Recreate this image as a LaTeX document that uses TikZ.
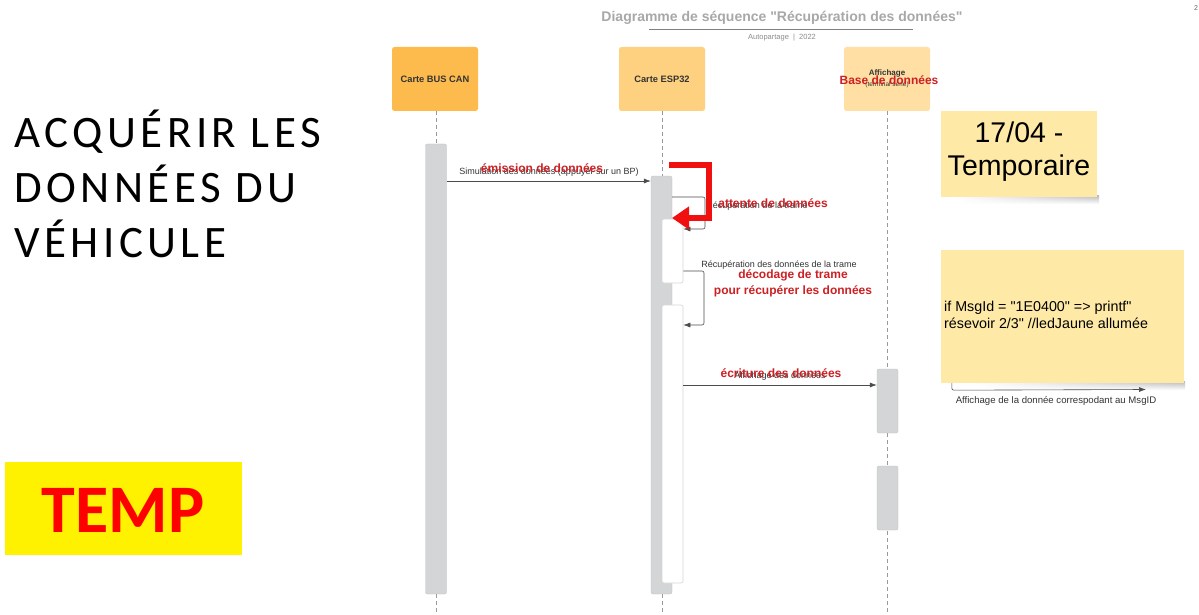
\documentclass[tikz,border=0pt]{standalone}
\usepackage{fontspec}
\setmainfont{Liberation Sans}[Ligatures=TeXOff]
\newfontfamily\carl{Carlito}
\newfontfamily\carlsp[LetterSpace=10]{Carlito}
\usetikzlibrary{arrows.meta,fadings}
\definecolor{busc}{RGB}{253,187,78}
\definecolor{espc}{RGB}{254,209,128}
\definecolor{affc}{RGB}{255,223,163}
\definecolor{barc}{RGB}{212,213,215}
\definecolor{notec}{RGB}{254,234,166}
\definecolor{redtxt}{RGB}{205,32,36}
\definecolor{redarr}{RGB}{240,16,16}
\definecolor{titlec}{RGB}{168,168,168}
\begin{document}
\begin{tikzpicture}[x=1pt,y=-1pt,
  actor/.style={fill=#1, rounded corners=2.5pt, minimum width=86pt, minimum height=64pt, inner sep=0pt},
  actortxt/.style={font=\bfseries\fontsize{9.3}{11}\selectfont, text=black!80, inner sep=0pt},
  life/.style={draw=black!40, dash pattern=on 4pt off 3pt, line width=0.8pt},
  actbar/.style={fill=barc, draw=barc!92!black, rounded corners=2pt, minimum width=21pt, inner sep=0pt, line width=0.4pt},
  subbar/.style={fill=white, draw=barc, rounded corners=2pt, minimum width=21pt, inner sep=0pt, line width=0.6pt},
  msg/.style={draw=black!70, line width=0.6pt, rounded corners=2pt, -{Latex[length=7pt,width=5pt]}},
  lbl/.style={font=\fontsize{9}{11}\selectfont, text=black!80, inner sep=0pt},
  redlbl/.style={font=\bfseries\fontsize{12}{14}\selectfont, text=redtxt, inner sep=0pt},
  note/.style={fill=notec, minimum width=#1, inner sep=0pt},
  bigtxt/.style={font=\carlsp\fontsize{45}{55}\selectfont, anchor=base west, inner sep=0pt},
  shadowstrip/.style={left color=white, right color=black!28, path fading=south},
]
\useasboundingbox (0,0) rectangle (1199,615);
\fill[white] (0,0) rectangle (1199,615);

% title
\node[font=\bfseries\fontsize{14}{16}\selectfont, text=titlec, inner sep=0pt] (title) at (782,18) {Diagramme de séquence "Récupération des données"};
\draw[draw=black!50, line width=0.8pt] (649,29.5) -- (913,29.5);
\node[font=\fontsize{7.5}{9}\selectfont, text=black!45, inner sep=0pt] (sub) at (782,38) {Autopartage \ | \ 2022};
\node[font=\fontsize{7}{8}\selectfont, text=black!60, anchor=west, inner sep=0pt] (pg) at (1194,8) {2};

% actors
\node[actor=busc] (bus) at (435,79) {};
\node[actortxt] (bust) at (bus) {Carte BUS CAN};
\node[actor=espc] (esp) at (662,79) {};
\node[actortxt] (espt) at (esp) {Carte ESP32};
\node[actor=affc] (aff) at (887,79) {};
\node[actortxt, font=\bfseries\fontsize{8}{9}\selectfont] (afft) at (887,73) {Affichage};
\node[lbl, font=\fontsize{6.5}{8}\selectfont] (afft2) at (887,85) {(terminal série)};

% lifelines
\draw[life] (bus.south -| 436,0) -- (436,615);
\draw[life] (esp.south -| 662,0) -- (662,615);
\draw[life] (aff.south -| 887.5,0) -- (887.5,615);

% activation bars
\node[actbar, minimum height=450pt] (busbar) at (436,369) {};
\node[actbar, minimum height=418pt] (espbar) at (661.5,385) {};
\node[subbar, minimum height=64pt] (sub1) at (672.5,251) {};
\node[subbar, minimum height=278pt] (sub2) at (672.5,444) {};
\node[actbar, minimum height=64pt] (affbar1) at (887.5,401) {};
\node[actbar, minimum height=64pt] (affbar2) at (887.5,498) {};

% messages
\draw[msg] (busbar.east |- 0,181) -- (espbar.west |- 0,181);
\node[lbl] (m1) at (549,172) {Simulation des données (appuyer sur un BP)};
\draw[msg] (espbar.east |- 0,197) -- (705,197) -- (705,229) -- (sub1.east |- 0,229);
\node[lbl] (m2) at (757,206) {Récupération de la trame};
\draw[msg] (sub1.east |- 0,271) -- (704,271) -- (704,325) -- (sub2.east |- 0,325);
\node[lbl] (m3) at (779,265) {Récupération des données de la trame};
\draw[msg] (sub2.east |- 0,385) -- (affbar1.west |- 0,385);
\node[lbl] (m4) at (780,376) {Affichage des données};

% red overlay
\draw[draw=redarr, line width=6pt, line join=miter, -{Triangle[length=17pt,width=22pt]}] (669,165) -- (709,165) -- (709,218) -- (672,218);
\node[redlbl] (r1) at (542,168) {émission de données};
\node[redlbl] (r2) at (773,203) {attente de données};
\node[redlbl, align=center, font=\bfseries\fontsize{12}{16}\selectfont] (r3) at (793,283) {décodage de trame\\pour récupérer les données};
\node[redlbl] (r4) at (781,373) {écriture des données};
\node[redlbl] (r5) at (889,80) {Base de données};

% sticky notes
\shade[shadowstrip] (955,195) rectangle (1099,204);
\node[note=156pt, minimum height=85pt] (n1) at (1019,154) {};
\node[align=center, font=\fontsize{28.5}{33}\selectfont, inner sep=0pt] (n1t) at (1019,152) {17/04 -\\Temporaire};
\shade[shadowstrip] (975,381) rectangle (1185,390);
\node[note=243pt, minimum height=133pt] (n2) at (1062.5,316.5) {};
\node[align=left, font=\fontsize{14.3}{17}\selectfont, anchor=west, inner sep=0pt] (n2t) at (944,315) {if MsgId = "1E0400" => printf"\\résevoir 2/3" //ledJaune allumée};
\draw[msg] ([xshift=11pt]n2.south west) -- ++(0,7) -- (1146,389.5);
\node[lbl, font=\fontsize{9.6}{11}\selectfont] (m5) at (1056,401) {Affichage de la donnée correspodant au MsgID};

% left text
\node[bigtxt] (l1) at (14,147) {ACQUÉRIR LES};
\node[bigtxt] (l2) at (14,202) {DONNÉES DU};
\node[bigtxt] (l3) at (14,257) {VÉHICULE};

% TEMP
\node[fill=yellow, minimum width=237pt, minimum height=93pt, inner sep=0pt] (temp) at (123.5,508.5) {};
\node[font=\carl\bfseries\fontsize{68}{70}\selectfont, text=red, anchor=base, inner sep=0pt] (tempt) at (123,532) {TEMP};
\end{tikzpicture}
\end{document}
